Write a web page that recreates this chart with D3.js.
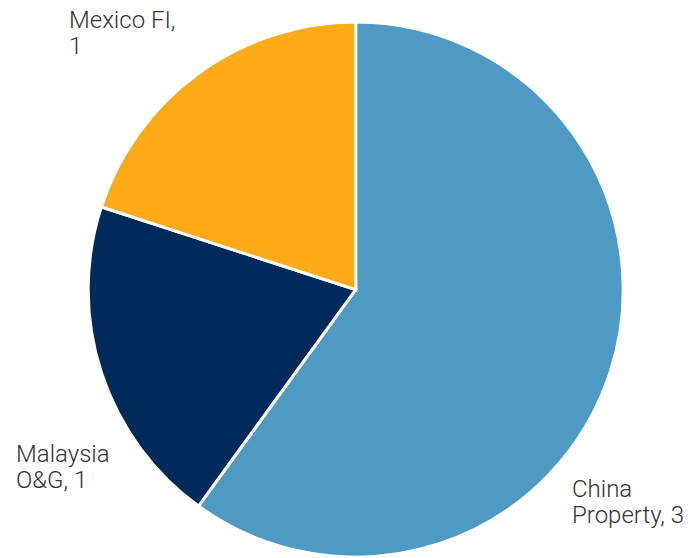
<!DOCTYPE html>
<html>
<head>
<meta charset="utf-8">
<script src="https://cdn.jsdelivr.net/npm/d3@7"></script>
<style>
  html, body { margin: 0; padding: 0; background: #fff; }
  svg { display: block; }
  text { font-family: Roboto, "Open Sans", sans-serif; font-weight: 300; fill: #333; }
</style>
</head>
<body>
<svg id="chart" width="692" height="558"></svg>
<script>
// Exposure by sector
const categories = ["China Property", "Malaysia O&G", "Mexico FI"];
const values = [3, 1, 1];
const colors = ["#4F9AC2", "#002A5B", "#FDAA18"];
// Label lines as written beside each slice
const labelLines = [["China", "Property, 3"], ["Malaysia", "O&G, 1"], ["Mexico FI,", "1"]];

const width = 692, height = 558;
const cx = 355.7, cy = 289.6, radius = 267.5;

const svg = d3.select("#chart");
const g = svg.append("g").attr("transform", `translate(${cx},${cy})`);

const data = categories.map((c, i) => ({ name: c, value: values[i], color: colors[i], lines: labelLines[i] }));

const pie = d3.pie().value(d => d.value).sort(null);
const arc = d3.arc().innerRadius(0).outerRadius(radius);
const arcs = pie(data);

g.selectAll("path.slice")
  .data(arcs)
  .join("path")
  .attr("class", "slice")
  .attr("d", arc)
  .attr("fill", d => d.data.color)
  .attr("stroke", "#fff")
  .attr("stroke-width", 3)
  .attr("stroke-linejoin", "miter");

// Label positions (left edge, first baseline) beside each slice
const labelPos = [[572, 497], [16, 462], [69, 27.5]];
const lineHeight = 26;

svg.selectAll("text.label")
  .data(arcs)
  .join("text")
  .attr("class", "label")
  .attr("font-size", 24)
  .each(function (d, i) {
    const t = d3.select(this);
    d.data.lines.forEach((line, k) => {
      t.append("tspan")
        .attr("x", labelPos[i][0])
        .attr("y", labelPos[i][1] + k * lineHeight)
        .text(line);
    });
  });
</script>
</body>
</html>
